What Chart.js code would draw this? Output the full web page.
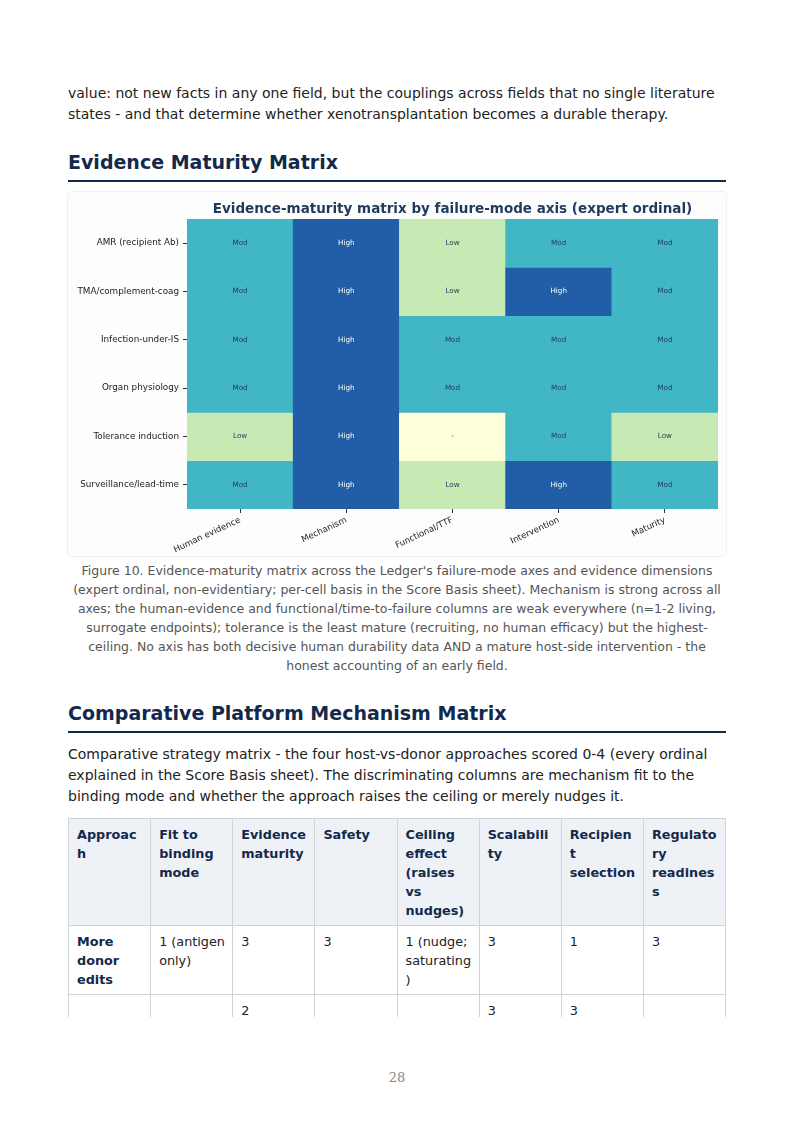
<!DOCTYPE html>
<html>
<head>
<meta charset="utf-8">
<script src="https://cdn.jsdelivr.net/npm/chart.js@4.4.1/dist/chart.umd.min.js"></script>
<style>
  html, body { margin: 0; padding: 0; background: #fff; }
  body { width: 794px; height: 1123px; position: relative; overflow: hidden; font-family: "DejaVu Sans", sans-serif; color: #222; }
  .blk { position: absolute; left: 68px; width: 658px; }
  p { margin: 0; font-size: 14px; line-height: 21px; }
  h2 { margin: 0; font-size: 19px; line-height: 24px; font-weight: bold; color: #13294b; padding-bottom: 6px; border-bottom: 2px solid #13294b; }
  .chartbox { top: 192px; height: 364px; background: #fdfdfd; border-radius: 4px; box-shadow: 0 0 0 1px #f0f0f0; }
  .caption { font-size: 12.5px; line-height: 19px; color: #555; text-align: center; }
  .clip { top: 818px; height: 199px; overflow: hidden; }
  table { width: 658px; border-collapse: collapse; table-layout: fixed; font-size: 12.8px; }
  th, td { border: 1px solid #cfd4da; padding: 5.5px 7px 5.5px 8px; vertical-align: top; text-align: left; line-height: 19px; overflow-wrap: anywhere; }
  th { background: #eef2f7; color: #13294b; }
  td.name { font-weight: bold; color: #13294b; }
  .pnum { position: absolute; top: 1070px; width: 794px; text-align: center; font-family: "DejaVu Serif", serif; font-size: 13px; color: #888; }
</style>
</head>
<body>

<p class="blk" style="top:83px">value: not new facts in any one field, but the couplings across fields that no single literature states - and that determine whether xenotransplantation becomes a durable therapy.</p>

<h2 class="blk" style="top:150px">Evidence Maturity Matrix</h2>

<div class="blk chartbox"><canvas id="matrizChart" width="658" height="364"></canvas></div>

<p class="blk caption" style="top:561px">Figure 10. Evidence-maturity matrix across the Ledger's failure-mode axes and evidence dimensions (expert ordinal, non-evidentiary; per-cell basis in the Score Basis sheet). Mechanism is strong across all axes; the human-evidence and functional/time-to-failure columns are weak everywhere (n=1-2 living, surrogate endpoints); tolerance is the least mature (recruiting, no human efficacy) but the highest-ceiling. No axis has both decisive human durability data AND a mature host-side intervention - the honest accounting of an early field.</p>

<h2 class="blk" style="top:701px">Comparative Platform Mechanism Matrix</h2>

<p class="blk" style="top:744px">Comparative strategy matrix - the four host-vs-donor approaches scored 0-4 (every ordinal explained in the Score Basis sheet). The discriminating columns are mechanism fit to the binding mode and whether the approach raises the ceiling or merely nudges it.</p>

<div class="blk clip">
<table>
  <tr><th>Approach</th><th>Fit to binding mode</th><th>Evidence maturity</th><th>Safety</th><th>Ceiling effect (raises vs nudges)</th><th>Scalability</th><th>Recipient selection</th><th>Regulatory readiness</th></tr>
  <tr><td class="name">More donor edits</td><td>1 (antigen only)</td><td>3</td><td>3</td><td>1 (nudge; saturating)</td><td>3</td><td>1</td><td>3</td></tr>
  <tr><td class="name">&nbsp;</td><td></td><td>2</td><td></td><td></td><td>3</td><td>3</td><td></td></tr>
</table>
</div>

<div class="pnum">28</div>

<script>
// eixos de falha (linhas) e dimensoes de evidencia (colunas)
const eixos = ['AMR (recipient Ab)', 'TMA/complement-coag', 'Infection-under-IS', 'Organ physiology', 'Tolerance induction', 'Surveillance/lead-time'];
const dimensoes = ['Human evidence', 'Mechanism', 'Functional/TTF', 'Intervention', 'Maturity'];

// niveis ordinais: 0 = '-', 1 = Low, 2 = Mod, 3 = High
const niveis = ['-', 'Low', 'Mod', 'High'];
const coresNivel = ['#ffffd9', '#c7e9b4', '#41b6c4', '#225ea8'];

const amr = [2, 3, 1, 2, 2];
const tma = [2, 3, 1, 3, 2];
const infeccao = [2, 3, 2, 2, 2];
const orgao = [2, 3, 2, 2, 2];
const tolerancia = [1, 3, 0, 2, 1];
const vigilancia = [2, 3, 1, 3, 2];
const matriz = [amr, tma, infeccao, orgao, tolerancia, vigilancia];

const FONTE = '"DejaVu Sans", sans-serif';

// cada linha vira um dataset de barras flutuantes [i, i+1]
const datasets = matriz.map((linha, i) => ({
    label: eixos[i],
    data: linha.map(() => [i, i + 1]),
    niveis: linha,
    backgroundColor: linha.map(v => coresNivel[v]),
    borderWidth: 0,
    grouped: false,
    barPercentage: 1,
    categoryPercentage: 1
}));

// textos dentro das celulas
const rotulosCelulas = {
    id: 'rotulosCelulas',
    afterDatasetsDraw(chart) {
        const ctx = chart.ctx;
        ctx.save();
        ctx.font = '7.2px ' + FONTE;
        ctx.textAlign = 'center';
        ctx.textBaseline = 'middle';
        chart.data.datasets.forEach((ds, i) => {
            chart.getDatasetMeta(i).data.forEach((el, j) => {
                const v = ds.niveis[j];
                ctx.fillStyle = v === 3 ? '#ffffff' : '#23405e';
                ctx.fillText(niveis[v], el.x, (el.y + el.base) / 2);
            });
        });
        ctx.restore();
    }
};

// titulo centrado sobre a area do grafico
const tituloArea = {
    id: 'tituloArea',
    afterDraw(chart) {
        const ctx = chart.ctx;
        const a = chart.chartArea;
        ctx.save();
        ctx.font = 'bold 13.5px ' + FONTE;
        ctx.fillStyle = '#1f3a5c';
        ctx.textAlign = 'center';
        ctx.textBaseline = 'middle';
        ctx.fillText('Evidence-maturity matrix by failure-mode axis (expert ordinal)', (a.left + a.right) / 2, 17);
        ctx.restore();
    }
};

new Chart(document.getElementById('matrizChart').getContext('2d'), {
    type: 'bar',
    data: { labels: dimensoes, datasets: datasets },
    plugins: [rotulosCelulas, tituloArea],
    options: {
        responsive: false,
        animation: false,
        layout: { padding: { top: 27, right: 8, left: 0, bottom: 0 } },
        plugins: { legend: { display: false }, tooltip: { enabled: false }, title: { display: false } },
        scales: {
            x: {
                grid: { display: true, offset: false, drawOnChartArea: false, drawTicks: true, tickLength: 4, color: '#333' },
                border: { display: false },
                ticks: { color: '#222', font: { family: FONTE, size: 8.6 }, minRotation: 25, maxRotation: 25, padding: 2, autoSkip: false },
                afterFit(scale) { scale.height = 47; }
            },
            y: {
                type: 'linear',
                min: 0,
                max: 6,
                reverse: true,
                grid: { display: true, drawOnChartArea: false, drawTicks: true, tickLength: 4, color: '#333' },
                border: { display: false },
                afterBuildTicks(scale) { scale.ticks = eixos.map((e, i) => ({ value: i + 0.5 })); },
                ticks: {
                    color: '#222',
                    font: { family: FONTE, size: 8.8 },
                    padding: 4,
                    autoSkip: false,
                    callback: (v, idx) => eixos[idx]
                },
                afterFit(scale) { scale.width = 119; }
            }
        }
    }
});
</script>
</body>
</html>
